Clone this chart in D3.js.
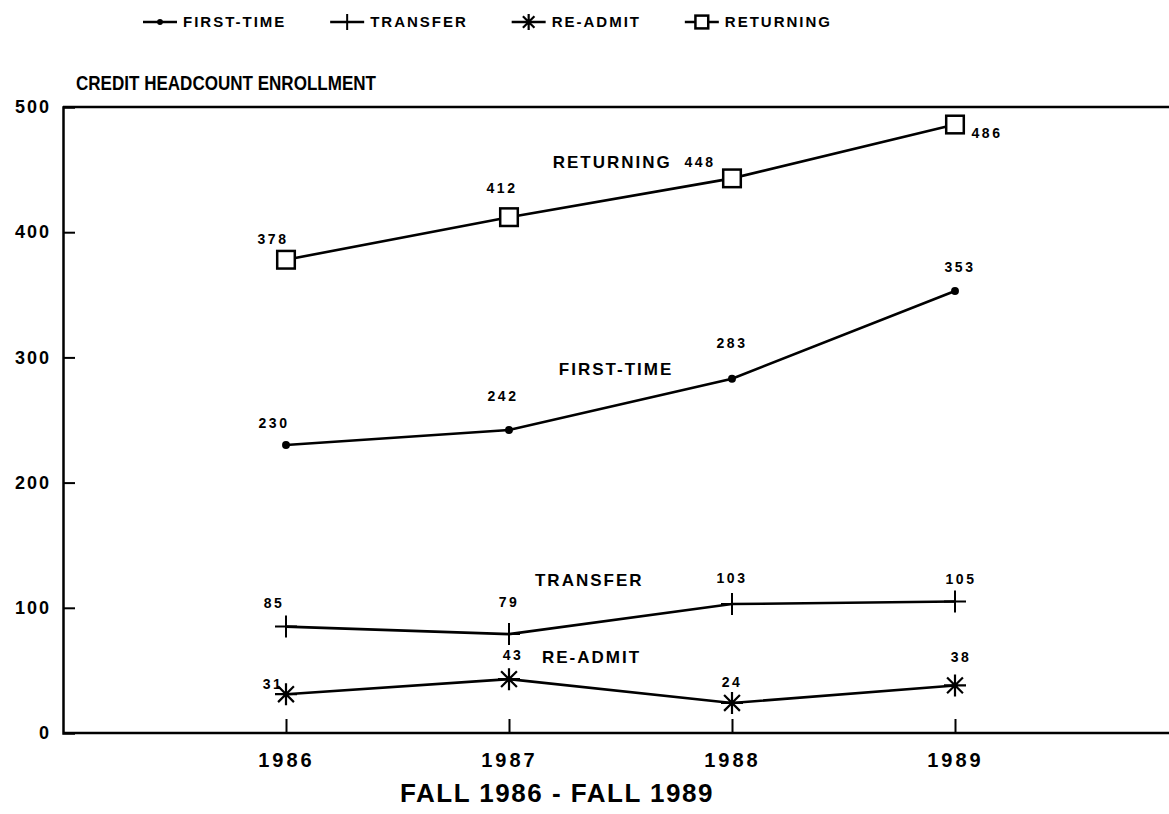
<!DOCTYPE html>
<html lang="en">
  <head>
    <meta charset="utf-8" />
    <title>Credit Headcount Enrollment</title>
    <script src="https://d3js.org/d3.v7.min.js"></script>
    <style>
      body { margin: 0; background: #fff; }
      text { font-family: "Liberation Sans", Arial, sans-serif; font-weight: bold; fill: #000; }
    </style>
  </head>
  <body>
    <script>
      // enrollment, fall 1986 - fall 1989
      var years = [1986, 1987, 1988, 1989];
      var firstTime = [230, 242, 283, 353];
      var transfer = [85, 79, 103, 105];
      var readmit = [31, 43, 24, 38];
      var returning = [378, 412, 443, 486];

      var valueLabels = {
        returning: ["378", "412", "448", "486"],
        firstTime: ["230", "242", "283", "353"],
        transfer: ["85", "79", "103", "105"],
        readmit: ["31", "43", "24", "38"]
      };
      var yTicks = [0, 100, 200, 300, 400, 500];

      // where the value labels sit relative to their point (px)
      var labelOffsets = {
        returning: [[-13, -21], [-7, -29], [-32, -16], [32, 9]],
        firstTime: [[-12, -22], [-6, -34], [0, -36], [5, -24]],
        transfer: [[-12, -23], [0, -32], [0, -26], [6, -22]],
        readmit: [[-13, -10], [4, -24], [0, -21], [6, -28]]
      };

      var width = 1169;
      var height = 814;

      var svg = d3.select("body")
        .append("svg")
        .attr("width", width)
        .attr("height", height);

      var x = d3.scaleLinear().domain([1985, 1990]).range([63, 1178]);
      var y = d3.scaleLinear().domain([0, 500]).range([733, 107]);

      var series = [
        { key: "firstTime", name: "FIRST-TIME", values: firstTime, mark: "dot", nameAt: [1987.48, 291], anchor: "middle" },
        { key: "transfer", name: "TRANSFER", values: transfer, mark: "plus", nameAt: [1987.36, 122], anchor: "middle" },
        { key: "readmit", name: "RE-ADMIT", values: readmit, mark: "star", nameAt: [1987.37, 61], anchor: "middle" },
        { key: "returning", name: "RETURNING", values: returning, mark: "square", nameAt: [1987.73, 456], anchor: "end" }
      ];

      // axes
      var yAxis = d3.axisLeft(y).tickValues(yTicks).tickSize(-12).tickPadding(12)
        .tickFormat(d3.format("d"));
      var gy = svg.append("g").attr("transform", "translate(" + x(1985) + ",0)").call(yAxis);
      gy.select(".domain").attr("stroke-width", 2.5);
      gy.selectAll(".tick line").attr("stroke-width", 2).filter(function (d) { return d === 0 || d === 500; }).remove();
      gy.selectAll(".tick text").style("font-size", "18px").style("letter-spacing", "2px");

      var xAxis = d3.axisBottom(x).tickValues(years).tickSize(-14).tickPadding(20)
        .tickFormat(d3.format("d"));
      var gx = svg.append("g").attr("transform", "translate(0," + y(0) + ")").call(xAxis);
      gx.select(".domain").remove();
      gx.selectAll(".tick line").attr("stroke-width", 2);
      gx.selectAll(".tick text").style("font-size", "20px").style("letter-spacing", "3px");

      svg.append("line")
        .attr("x1", x(1985)).attr("x2", width)
        .attr("y1", y(0)).attr("y2", y(0))
        .attr("stroke", "#000").attr("stroke-width", 2.5);
      svg.append("line")
        .attr("x1", x(1985)).attr("x2", width)
        .attr("y1", y(500)).attr("y2", y(500))
        .attr("stroke", "#000").attr("stroke-width", 2.5);

      function drawMark(g, kind, size) {
        var s = size;
        if (kind === "dot") {
          g.append("circle").attr("r", s * 0.36).attr("fill", "#000");
        } else if (kind === "plus") {
          g.append("path").attr("d", "M" + (-s) + ",0H" + s + "M0," + (-s) + "V" + s)
            .attr("stroke", "#000").attr("stroke-width", 2).attr("fill", "none");
        } else if (kind === "star") {
          var d = s * 0.72;
          g.append("path")
            .attr("d", "M" + (-s) + ",0H" + s + "M0," + (-s) + "V" + s +
              "M" + (-d) + "," + (-d) + "L" + d + "," + d + "M" + (-d) + "," + d + "L" + d + "," + (-d))
            .attr("stroke", "#000").attr("stroke-width", 2.2).attr("fill", "none");
        } else {
          g.append("rect").attr("x", -s * 0.8).attr("y", -s * 0.8)
            .attr("width", s * 1.6).attr("height", s * 1.6)
            .attr("fill", "#fff").attr("stroke", "#000").attr("stroke-width", 2.5);
        }
      }

      var line = d3.line()
        .x(function (d, i) { return x(years[i]); })
        .y(function (d) { return y(d); });

      series.forEach(function (s) {
        svg.append("path")
          .datum(s.values)
          .attr("d", line)
          .attr("fill", "none")
          .attr("stroke", "#000")
          .attr("stroke-width", 2.6);

        s.values.forEach(function (v, i) {
          var g = svg.append("g").attr("transform", "translate(" + x(years[i]) + "," + y(v) + ")");
          drawMark(g, s.mark, 11);
          var off = labelOffsets[s.key][i];
          svg.append("text")
            .attr("x", x(years[i]) + off[0])
            .attr("y", y(v) + off[1])
            .attr("dy", "0.35em")
            .attr("text-anchor", "middle")
            .style("font-size", "14px")
            .style("letter-spacing", "2.5px")
            .text(valueLabels[s.key][i]);
        });

        svg.append("text")
          .attr("x", x(s.nameAt[0]))
          .attr("y", y(s.nameAt[1]))
          .attr("dy", "0.35em")
          .attr("text-anchor", s.anchor)
          .style("font-size", "17px")
          .style("letter-spacing", "2px")
          .text(s.name);
      });

      // chart title and x title
      svg.append("text")
        .attr("x", 76).attr("y", 90)
        .attr("textLength", 300)
        .attr("lengthAdjust", "spacingAndGlyphs")
        .style("font-size", "20px")
        .text("CREDIT HEADCOUNT ENROLLMENT");

      svg.append("text")
        .attr("x", 557).attr("y", 802)
        .attr("text-anchor", "middle")
        .style("font-size", "26px")
        .style("letter-spacing", "1.5px")
        .text("FALL 1986 - FALL 1989");

      // legend across the top, items spaced to fill 143..832
      var legend = svg.append("g").attr("transform", "translate(143,22)");
      var items = series.map(function (s) {
        var g = legend.append("g");
        g.append("line").attr("x1", 0).attr("x2", 34).attr("stroke", "#000").attr("stroke-width", 2.5);
        drawMark(g.append("g").attr("transform", "translate(17,0)"), s.mark, 8);
        var t = g.append("text")
          .attr("x", 40).attr("dy", "0.36em")
          .style("font-size", "15px")
          .style("letter-spacing", "2px")
          .text(s.name);
        return { g: g, w: 40 + t.node().getComputedTextLength() };
      });
      var total = d3.sum(items, function (d) { return d.w; });
      var gap = (832 - 143 - total) / (items.length - 1);
      var pos = 0;
      items.forEach(function (it) {
        it.g.attr("transform", "translate(" + pos + ",0)");
        pos += it.w + gap;
      });
    </script>
  </body>
</html>
